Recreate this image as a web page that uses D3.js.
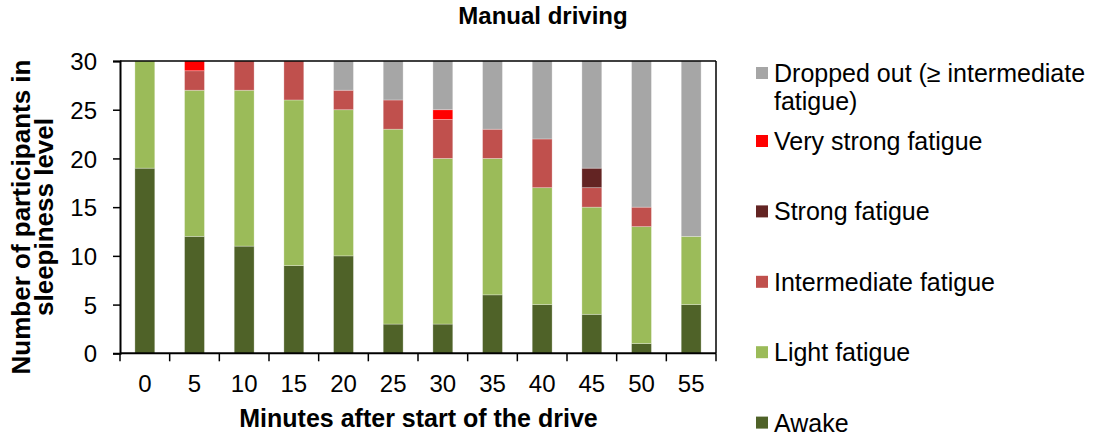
<!DOCTYPE html>
<html>
<head>
<meta charset="utf-8">
<script src="https://cdn.jsdelivr.net/npm/d3@7/dist/d3.min.js"></script>
<style>
  body { margin: 0; background: #fff; }
  text { font-family: "Liberation Sans", Arial, sans-serif; fill: #000; }
</style>
</head>
<body>
<svg id="chart" width="1093" height="438"></svg>
<script>
const categories = ["0","5","10","15","20","25","30","35","40","45","50","55"];
const awake        = [19,12,11, 9,10, 3, 3, 6, 5, 4, 1, 5];
const lightFatigue = [11,15,16,17,15,20,17,14,12,11,12, 7];
const intermediate = [ 0, 2, 3, 4, 2, 3, 4, 3, 5, 2, 2, 0];
const strong       = [ 0, 0, 0, 0, 0, 0, 0, 0, 0, 2, 0, 0];
const veryStrong   = [ 0, 1, 0, 0, 0, 0, 1, 0, 0, 0, 0, 0];
const droppedOut   = [ 0, 0, 0, 0, 3, 4, 5, 7, 8,11,15,18];
const yTicks = [0,5,10,15,20,25,30];

const seriesNames = ["Awake","Light fatigue","Intermediate fatigue","Strong fatigue","Very strong fatigue","Dropped out (\u2265 intermediate fatigue)"];
const seriesKeys = ["awake","light","inter","strong","vstrong","dropped"];
const seriesColors = ["#4F6228","#9BBB59","#C0504D","#632423","#FF0000","#A6A6A6"];
const seriesData = [awake, lightFatigue, intermediate, strong, veryStrong, droppedOut];

const table = categories.map((c, i) => {
  const row = {cat: c};
  seriesKeys.forEach((k, j) => row[k] = seriesData[j][i]);
  return row;
});

const svg = d3.select("#chart");
const pLeft = 120, pRight = 716, pTop = 61, pBottom = 353.3;

const x = d3.scaleBand().domain(categories).range([pLeft, pRight]).paddingInner(0.6).paddingOuter(0.3);
const xEdges = d3.scaleLinear().domain([0, categories.length]).range([pLeft, pRight]);
const y = d3.scaleLinear().domain([0, 30]).range([pBottom, pTop]);

const stack = d3.stack().keys(seriesKeys)(table);
const color = d3.scaleOrdinal().domain(seriesKeys).range(seriesColors);

svg.append("g").selectAll("g").data(stack).join("g")
  .attr("fill", d => color(d.key))
  .selectAll("rect").data(d => d.filter(s => s[1] - s[0] > 0)).join("rect")
  .attr("x", d => x(d.data.cat))
  .attr("width", x.bandwidth())
  .attr("y", d => y(d[1]))
  .attr("height", d => y(d[0]) - y(d[1]))
  .attr("stroke", "#ffffff")
  .attr("stroke-opacity", 0.35)
  .attr("stroke-width", 0.8);

// frame top & right
svg.append("line").attr("x1", pLeft).attr("x2", pRight).attr("y1", pTop).attr("y2", pTop)
  .attr("stroke", "#000").attr("stroke-width", 1.5);
svg.append("line").attr("x1", pRight).attr("x2", pRight).attr("y1", pTop).attr("y2", pBottom)
  .attr("stroke", "#000").attr("stroke-width", 1.5);

// y axis
const yAxis = svg.append("g").attr("transform", `translate(${pLeft},0)`)
  .call(d3.axisLeft(y).tickValues(yTicks).tickSize(7).tickPadding(16));
yAxis.select(".domain").attr("stroke-width", 2);
yAxis.selectAll(".tick line").attr("stroke-width", 1.5);
yAxis.selectAll(".tick text").attr("font-size", 24).attr("font-family", "Liberation Sans, Arial, sans-serif").attr("dy", "0.36em");

// x axis
const xAxis = svg.append("g").attr("transform", `translate(0,${pBottom})`)
  .call(d3.axisBottom(x).tickSize(0).tickPadding(22));
xAxis.select(".domain").attr("stroke-width", 2).attr("d", `M${pLeft},0H${pRight}`);
xAxis.selectAll(".tick text").attr("font-size", 24).attr("font-family", "Liberation Sans, Arial, sans-serif");
xAxis.selectAll("line.edge").data(d3.range(categories.length + 1)).join("line")
  .attr("class", "edge")
  .attr("x1", d => xEdges(d)).attr("x2", d => xEdges(d))
  .attr("y1", 0).attr("y2", 8)
  .attr("stroke", "#000").attr("stroke-width", 1.5);

// title
svg.append("text").attr("x", 543).attr("y", 24).attr("text-anchor", "middle")
  .attr("font-size", 24).attr("font-weight", "bold").text("Manual driving");

// x title
svg.append("text").attr("x", 418.5).attr("y", 427).attr("text-anchor", "middle")
  .attr("font-size", 25).attr("font-weight", "bold").text("Minutes after start of the drive");

// y title
const yt = svg.append("text").attr("transform", "translate(0,217) rotate(-90)")
  .attr("text-anchor", "middle").attr("font-size", 26).attr("font-weight", "bold");
yt.append("tspan").attr("x", 0).attr("y", 30).text("Number of participants in");
yt.append("tspan").attr("x", 0).attr("y", 53).text("sleepiness level");

// legend (reverse order)
const legendItems = seriesKeys.map((k, i) => ({key: k, name: seriesNames[i], color: seriesColors[i]})).reverse();
const lg = svg.append("g");
legendItems.forEach((d, i) => {
  const base = i === 0 ? 82 : 150 + (i - 1) * 70.4;
  lg.append("rect").attr("x", 756).attr("y", base - 15).attr("width", 12).attr("height", 12).attr("fill", d.color);
  const t = lg.append("text").attr("x", 774).attr("y", base).attr("font-size", 25);
  if (i === 0) {
    t.append("tspan").attr("x", 774).attr("y", base).text("Dropped out (\u2265 intermediate");
    t.append("tspan").attr("x", 774).attr("y", base + 28).text("fatigue)");
  } else {
    t.text(d.name);
  }
});
</script>
</body>
</html>
